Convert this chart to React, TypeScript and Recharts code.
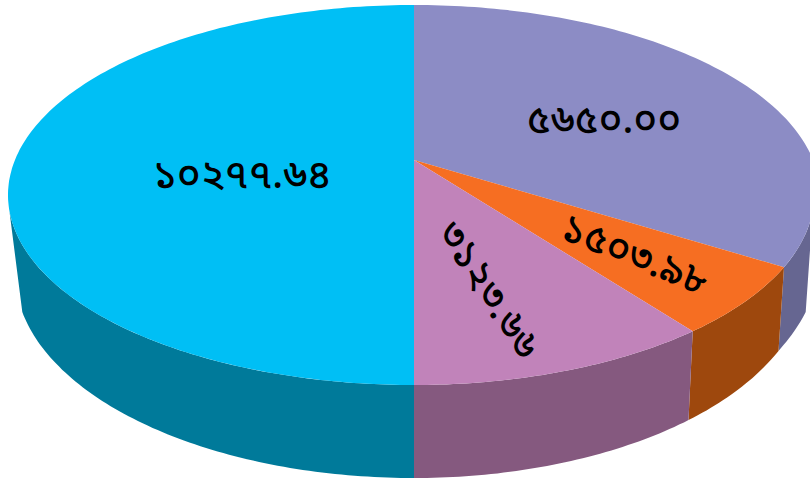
// App.tsx - 3D look pie with Bengali value labels
import React from 'react';
import { PieChart, Pie, Cell } from 'recharts';

const values = [5650.0, 1503.98, 3123.66, 10277.64];
const topColors = ['#8C8CC5', '#F66E22', '#C183BA', '#00BFF5'];
const wallColors = ['#666691', '#9E480D', '#85597F', '#007A9A'];

const labelAngles = [0, 22, 57, 0];
const labelSpots = [
  { dx: 190, dy: -73 },
  { dx: 220, dy: 62 },
  { dx: 73, dy: 96 },
  { dx: -172, dy: -18 },
];

const bnDigits = '০১২৩৪৫৬৭৮৯';
const toBengali = (n: number) => n.toFixed(2).replace(/\d/g, (d) => bnDigits[Number(d)]);

// perspective of the disc, relative to the pie's own centre and radius
const SQUASH = 190 / 406;
const APEX_UP = 35;
const WARP = 1.275;
const WALL_DOWN = 78;
const WALL_SQUASH = 205 / 406;
const TOP_LIMIT = 94.5;
const WALL_LIMIT = 101;

const toScreen = (angle: number) => {
  const t = ((90 - angle) * Math.PI) / 360;
  return 2 * Math.atan2(WARP * Math.sin(t), Math.cos(t));
};

const topPoint = (phi: number, cx: number, cy: number, r: number) => {
  const right = Math.sin(phi) > 0;
  const rx = right && Math.cos(phi) < 0 ? r - 6 : r;
  return [cx + rx * Math.sin(phi), cy - r * SQUASH * Math.cos(phi)];
};

const wallPoint = (phi: number, cx: number, cy: number, r: number) => {
  const right = Math.sin(phi) > 0;
  // right side of the lower rim pulls in a little towards the front
  const deg = (phi * 180) / Math.PI;
  const pull = right ? Math.min(1, Math.max(0, (deg - 101) / 11)) : 0;
  const rx = r - 7 - 5 * pull;
  return [cx + rx * Math.sin(phi), cy + WALL_DOWN - r * WALL_SQUASH * Math.cos(phi)];
};

const sample = (from: number, to: number) => {
  const out: number[] = [];
  const steps = Math.max(2, Math.ceil(Math.abs(to - from) * 60));
  for (let i = 0; i <= steps; i++) out.push(from + ((to - from) * i) / steps);
  return out;
};

const toPath = (pts: number[][]) =>
  pts.map((p, i) => `${i ? 'L' : 'M'}${p[0].toFixed(1)} ${p[1].toFixed(1)}`).join(' ') + ' Z';

const TopFace = (props: any) => {
  const { cx, cy, outerRadius, startAngle, endAngle, fill } = props;
  const pts = sample(toScreen(startAngle), toScreen(endAngle)).map((p) => topPoint(p, cx, cy, outerRadius));
  return <path d={toPath([[cx, cy - APEX_UP], ...pts])} fill={fill} />;
};

const Wall = (props: any) => {
  const { cx, cy, outerRadius, startAngle, endAngle, fill } = props;
  const a = toScreen(startAngle);
  const b = toScreen(endAngle);
  const clamp = (v: number, lim: number) => {
    const lo = (lim * Math.PI) / 180;
    return Math.min(Math.max(v, lo), 2 * Math.PI - lo);
  };
  const upper = sample(clamp(a, TOP_LIMIT), clamp(b, TOP_LIMIT)).map((p) => topPoint(p, cx, cy, outerRadius));
  const lower = sample(clamp(b, WALL_LIMIT), clamp(a, WALL_LIMIT)).map((p) => wallPoint(p, cx, cy, outerRadius));
  return <path d={toPath([...upper, ...lower])} fill={fill} />;
};

const renderLabel = (props: any) => {
  const { cx, cy, index, value } = props;
  const x = cx + labelSpots[index].dx;
  const y = cy + labelSpots[index].dy;
  return (
    <text
      x={x}
      y={y}
      fill="#000000"
      fontSize={40}
      fontWeight={500}
      fontFamily="'Noto Sans Bengali', 'Noto Sans', 'DejaVu Sans', sans-serif"
      textAnchor="middle"
      dominantBaseline="central"
      transform={`rotate(${labelAngles[index]} ${x} ${y})`}
    >
      {toBengali(value)}
    </text>
  );
};

const tableData = values.map((value, i) => ({ name: String(i), value }));

const App = () => {
  return (
    <div style={{ position: 'absolute', left: 0, top: 0, width: 810, height: 481, overflow: 'hidden' }}>
      <PieChart width={810} height={481} margin={{ top: 0, right: 0, bottom: 0, left: 0 }}>
        <Pie
          data={tableData}
          dataKey="value"
          cx={414}
          cy={195}
          outerRadius={406}
          startAngle={90}
          endAngle={-270}
          stroke="none"
          shape={Wall}
          isAnimationActive={false}
        >
          {values.map((_, i) => (
            <Cell key={i} fill={wallColors[i]} />
          ))}
        </Pie>
        <Pie
          data={tableData}
          dataKey="value"
          cx={414}
          cy={195}
          outerRadius={406}
          startAngle={90}
          endAngle={-270}
          stroke="none"
          shape={TopFace}
          label={renderLabel}
          labelLine={false}
          isAnimationActive={false}
        >
          {values.map((_, i) => (
            <Cell key={i} fill={topColors[i]} />
          ))}
        </Pie>
      </PieChart>
    </div>
  );
};

export default App;
